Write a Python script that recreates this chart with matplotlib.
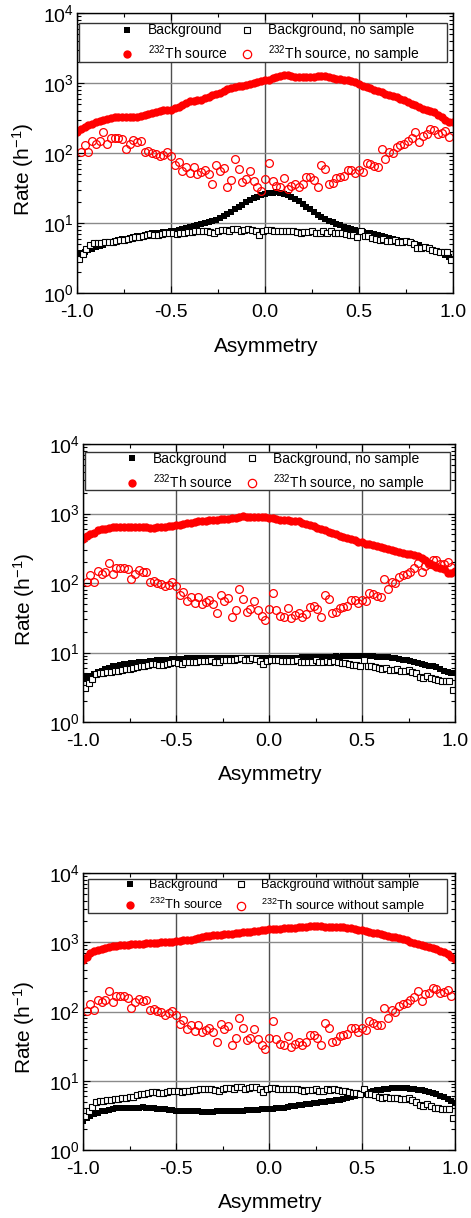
import numpy as np
import matplotlib
matplotlib.use("Agg")
import matplotlib.pyplot as plt
from matplotlib.ticker import MultipleLocator, FormatStrFormatter, LogLocator, NullFormatter
from matplotlib.patches import Rectangle
from matplotlib.lines import Line2D

plt.rcParams['font.family'] = ['Liberation Sans', 'DejaVu Sans']
plt.rcParams['mathtext.fontset'] = 'custom'
plt.rcParams['mathtext.rm'] = 'Liberation Sans'
plt.rcParams['mathtext.it'] = 'Liberation Sans:italic'
plt.rcParams['axes.unicode_minus'] = False

# bin centres (filled series every 0.02, "no sample" series every 0.02 offset)
asym = np.round(np.linspace(-1.0, 1.0, 101), 2)
asym_circ = np.round(np.linspace(-0.98, 0.98, 99), 2)
asym_sq = np.round(np.linspace(-0.99, 0.99, 100), 2)

# --- measurements without sample (same in all three panels) ---
th_nosample = [
    102, 130, 105, 149, 136, 146, 197, 135, 165, 166,
    166, 159, 114, 136, 152, 144, 146, 105, 108, 101,
    98, 90.5, 94.6, 102, 89.5, 66.4, 75, 56, 62.8, 52,
    62.8, 50.3, 53.2, 57.4, 49.8, 36.5, 66.4, 56, 61.4, 32.6,
    40.8, 81.9, 58.7, 38.5, 42.1, 55.6, 40.3, 33, 28.9, 42.1,
    72.4, 40.3, 33.8, 32.3, 44, 30.9, 34.1, 36.5, 32.3, 36.1,
    45.5, 46, 41.7, 32.6, 68, 58.7, 36.5, 37.7, 43.6, 45.5,
    47.1, 57.4, 57.4, 51.4, 57.4, 54.3, 72.4, 68.6, 64.9, 62.8,
    114, 81.9, 105, 100, 122, 130, 133, 146, 163, 197,
    144, 176, 186, 217, 212, 186, 190, 203, 168,
]
bg_nosample = [
    3.1, 3.65, 4.2, 4.9, 5.1, 5.1, 5.2, 5.3, 5.4, 5.4,
    5.6, 5.7, 5.8, 5.9, 6.2, 6.4, 6.4, 6.6, 6.8, 6.9,
    6.7, 6.7, 6.9, 7.1, 7.2, 7.1, 6.9, 7.2, 7.2, 7.4,
    7.4, 7.6, 7.6, 7.6, 7.7, 7.4, 7.2, 7.7, 7.9, 7.9,
    7.7, 8.1, 8.2, 7.7, 7.9, 8.2, 8.0, 7.6, 6.8, 7.6,
    7.9, 7.9, 7.7, 7.6, 7.6, 7.6, 7.6, 7.7, 7.4, 7.2,
    7.4, 7.4, 7.7, 7.2, 7.2, 7.6, 7.3, 7.6, 7.3, 7.1,
    7.1, 6.9, 6.7, 6.7, 6.4, 7.7, 6.5, 6.5, 6.2, 5.9,
    5.7, 5.9, 5.6, 5.6, 5.7, 5.4, 5.4, 5.6, 5.3, 5.0,
    4.45, 4.35, 4.55, 4.35, 4.1, 3.98, 3.86, 3.86, 3.86, 2.92,
]

# --- panel 1 ---
th_1 = [
    200, 220, 238, 250, 262, 275, 288, 298, 310, 318,
    325, 332, 330, 322, 325, 328, 332, 340, 350, 360,
    375, 390, 395, 410, 405, 415, 440, 460, 490, 520,
    545, 555, 570, 580, 610, 635, 665, 700, 720, 760,
    820, 850, 880, 905, 920, 945, 960, 1000, 1050, 1075,
    1100, 1120, 1160, 1200, 1250, 1290, 1280, 1240, 1220, 1210,
    1220, 1210, 1200, 1220, 1240, 1270, 1240, 1200, 1170, 1150,
    1130, 1115, 1100, 1080, 1020, 960, 915, 880, 840, 800,
    765, 740, 700, 670, 650, 625, 600, 570, 530, 505,
    480, 450, 430, 415, 400, 380, 350, 330, 300, 275,
    280,
]
bg_1 = [
    3.4, 3.7, 3.9, 4.1, 4.3, 4.5, 4.7, 4.9, 5.2, 5.4,
    5.6, 5.8, 5.9, 6.0, 6.1, 6.3, 6.5, 6.6, 6.8, 7.0,
    7.1, 7.2, 7.3, 7.4, 7.5, 7.6, 7.8, 8.0, 8.2, 8.5,
    8.8, 9.1, 9.4, 9.6, 9.9, 10.2, 10.6, 11.1, 11.8, 12.6,
    13.4, 14.4, 15.6, 16.9, 18.3, 19.8, 21.2, 22.5, 23.7, 24.8,
    25.8, 26.6, 27.2, 27.4, 27.1, 26.3, 25.2, 23.8, 22.2, 20.4,
    18.7, 17.1, 15.7, 14.4, 13.2, 12.2, 11.4, 10.8, 10.3, 9.8,
    9.3, 8.9, 8.6, 8.3, 8.0, 7.7, 7.5, 7.3, 7.1, 6.9,
    6.7, 6.5, 6.3, 6.1, 6.0, 5.8, 5.6, 5.5, 5.4, 5.2,
    5.0, 4.8, 4.6, 4.4, 4.2, 4.0, 3.8, 3.7, 3.5, 3.3,
    3.1,
]

# --- panel 2 ---
th_2 = [
    430, 470, 500, 530, 570, 590, 600, 625, 640, 650,
    645, 650, 640, 645, 650, 640, 645, 630, 620, 615,
    630, 640, 645, 655, 665, 680, 690, 705, 720, 740,
    760, 775, 790, 790, 800, 805, 815, 820, 830, 845,
    860, 870, 880, 910, 895, 900, 900, 895, 890, 885,
    870, 850, 830, 815, 800, 795, 790, 790, 770, 740,
    710, 690, 660, 620, 590, 570, 545, 525, 500, 480,
    465, 445, 425, 410, 395, 385, 370, 360, 350, 340,
    325, 315, 305, 295, 285, 280, 270, 265, 260, 255,
    245, 230, 215, 195, 180, 172, 165, 158, 140, 138,
    148,
]
bg_2 = [
    4.1, 4.4, 4.6, 4.9, 5.2, 5.5, 5.8, 6.0, 6.3, 6.5,
    6.6, 6.8, 6.9, 7.0, 7.1, 7.2, 7.3, 7.4, 7.5, 7.6,
    7.7, 7.8, 7.9, 7.9, 8.0, 8.0, 8.1, 8.1, 8.2, 8.2,
    8.2, 8.3, 8.3, 8.2, 8.3, 8.3, 8.2, 8.3, 8.3, 8.3,
    8.3, 8.4, 8.3, 8.4, 8.3, 8.3, 8.3, 8.2, 8.3, 8.3,
    8.3, 8.3, 8.3, 8.3, 8.3, 8.3, 8.3, 8.4, 8.4, 8.5,
    8.5, 8.6, 8.7, 8.7, 8.7, 8.6, 8.7, 8.7, 8.8, 8.7,
    8.8, 8.8, 8.9, 8.9, 9.0, 8.9, 8.9, 8.8, 8.8, 8.7,
    8.6, 8.6, 8.5, 8.4, 8.2, 8.0, 7.9, 7.7, 7.5, 7.3,
    7.1, 6.9, 6.7, 6.5, 6.3, 6.1, 5.8, 5.5, 5.3, 5.1,
    5.0,
]

# --- panel 3 ---
th_3 = [
    560, 620, 690, 740, 770, 790, 820, 850, 870, 890,
    905, 910, 925, 935, 940, 950, 955, 960, 965, 970,
    985, 995, 1005, 1015, 1025, 1040, 1050, 1060, 1070, 1090,
    1130, 1170, 1200, 1220, 1240, 1260, 1275, 1290, 1305, 1320,
    1335, 1350, 1365, 1385, 1400, 1420, 1440, 1460, 1490, 1520,
    1545, 1555, 1565, 1575, 1590, 1600, 1610, 1625, 1640, 1650,
    1665, 1690, 1715, 1720, 1700, 1680, 1665, 1650, 1650, 1645,
    1640, 1620, 1590, 1560, 1520, 1490, 1450, 1410, 1370, 1340,
    1310, 1280, 1240, 1210, 1180, 1140, 1100, 1060, 1020, 990,
    950, 920, 880, 850, 820, 790, 760, 725, 680, 620,
    570,
]
bg_3 = [
    2.6, 2.9, 3.1, 3.3, 3.45, 3.6, 3.7, 3.8, 3.9, 4.0,
    4.05, 4.1, 4.1, 4.05, 4.1, 4.1, 4.15, 4.1, 4.05, 4.0,
    3.95, 3.9, 3.85, 3.8, 3.75, 3.7, 3.7, 3.65, 3.65, 3.6,
    3.6, 3.6, 3.55, 3.55, 3.55, 3.55, 3.6, 3.6, 3.6, 3.65,
    3.65, 3.65, 3.7, 3.7, 3.75, 3.75, 3.8, 3.8, 3.85, 3.85,
    3.9, 3.95, 4.0, 4.05, 4.1, 4.2, 4.25, 4.3, 4.4, 4.5,
    4.55, 4.65, 4.7, 4.8, 4.9, 4.95, 5.05, 5.1, 5.2, 5.35,
    5.5, 5.65, 5.8, 6.0, 6.2, 6.4, 6.6, 6.85, 7.05, 7.25,
    7.4, 7.55, 7.65, 7.75, 7.8, 7.8, 7.8, 7.75, 7.7, 7.6,
    7.45, 7.3, 7.1, 6.9, 6.65, 6.4, 6.1, 5.8, 5.5, 5.15,
    4.8,
]

labels_a = ['Background', '$^{232}$Th source',
            'Background, no sample', '$^{232}$Th source, no sample']
labels_b = ['Background', '$^{232}$Th source',
            'Background without sample', '$^{232}$Th source without sample']

RED = '#ff0000'


def draw_panel(ax, bg, th, labels, frame, leg_center, leg_size):
    ax.plot(asym, bg, 's', color='black', ms=4.0, mew=0, zorder=3)
    ax.plot(asym_sq, bg_nosample, 's', mfc='white', mec='black', ms=4.2, mew=0.8, zorder=4)
    ax.plot(asym, th, 'o', color=RED, ms=6.0, mew=0, zorder=3)
    ax.plot(asym_circ, th_nosample, 'o', mfc='none', mec=RED, ms=5.6, mew=0.9, zorder=4)

    ax.set_yscale('log')
    ax.set_xlim(-1.0, 1.0)
    ax.set_ylim(1, 1e4)
    ax.xaxis.set_major_locator(MultipleLocator(0.5))
    ax.xaxis.set_minor_locator(MultipleLocator(0.25))
    ax.xaxis.set_major_formatter(FormatStrFormatter('%.1f'))
    ax.yaxis.set_major_locator(LogLocator(base=10, numticks=10))
    ax.yaxis.set_minor_locator(LogLocator(base=10, subs=np.arange(2, 10), numticks=10))
    ax.yaxis.set_minor_formatter(NullFormatter())

    ax.tick_params(which='both', direction='in', top=True, right=True,
                   width=0.8, colors='black', labelsize=14)
    ax.tick_params(which='major', length=5)
    ax.tick_params(which='minor', length=3)
    ax.tick_params(axis='x', which='major', pad=8)
    ax.tick_params(axis='y', which='major', pad=2.5)
    ax.xaxis.grid(True, which='major', color='#505050', lw=1.0, zorder=1)
    ax.yaxis.grid(True, which='major', color='#8a8a8a', lw=1.0, zorder=1)
    ax.set_axisbelow(True)
    for s in ax.spines.values():
        s.set_linewidth(1.0)
        s.set_zorder(6)

    ax.set_xlabel('Asymmetry', fontsize=15)
    ax.set_ylabel('Rate (h$^{-1}$)', fontsize=15)
    ax.xaxis.set_label_coords(0.503, -0.19)
    ax.xaxis.label.set_va('center')

    # legend box (white, covers the grid) and a frameless legend inside it
    x0, y0, x1, y1 = frame
    ax.add_patch(Rectangle((x0, y0), x1 - x0, y1 - y0, transform=ax.transAxes,
                           facecolor='white', edgecolor='#333333', lw=1.0,
                           zorder=7, clip_on=False))
    handles = [
        Line2D([], [], ls='', marker='s', color='black', ms=4.5, mew=0),
        Line2D([], [], ls='', marker='o', color=RED, ms=6, mew=0),
        Line2D([], [], ls='', marker='s', mfc='white', mec='black', ms=4.5, mew=0.8),
        Line2D([], [], ls='', marker='o', mfc='none', mec=RED, ms=6, mew=0.9),
    ]
    leg = ax.legend(handles, labels, ncol=2, loc='center', bbox_to_anchor=leg_center,
                    frameon=False, fontsize=leg_size, handlelength=0.8,
                    handletextpad=1.1, columnspacing=1.0, labelspacing=0.45,
                    borderpad=0.0, borderaxespad=0.0)
    leg.set_zorder(8)


fig = plt.figure(figsize=(4.71, 12.18), dpi=100)
ax1 = fig.add_axes([77 / 471, 1 - 293 / 1218, 376 / 471, 280 / 1218])
ax2 = fig.add_axes([83 / 471, 1 - 722 / 1218, 372 / 471, 278 / 1218])
ax3 = fig.add_axes([83 / 471, 1 - 1150 / 1218, 372 / 471, 277 / 1218])

draw_panel(ax1, bg_1, th_1, labels_a, (0.005, 0.825, 0.984, 0.964), (0.515, 0.888), 10)
draw_panel(ax2, bg_2, th_2, labels_a, (0.005, 0.835, 0.987, 0.972), (0.518, 0.897), 10)
draw_panel(ax3, bg_3, th_3, labels_b, (0.013, 0.856, 0.978, 0.978), (0.515, 0.912), 9.3)

ax1.yaxis.set_label_coords(-0.144, 0.443)
ax2.yaxis.set_label_coords(-0.159, 0.443)
ax3.yaxis.set_label_coords(-0.159, 0.443)
for a in (ax1, ax2, ax3):
    a.yaxis.label.set_va('center')

fig.savefig('out.png', dpi=100)
